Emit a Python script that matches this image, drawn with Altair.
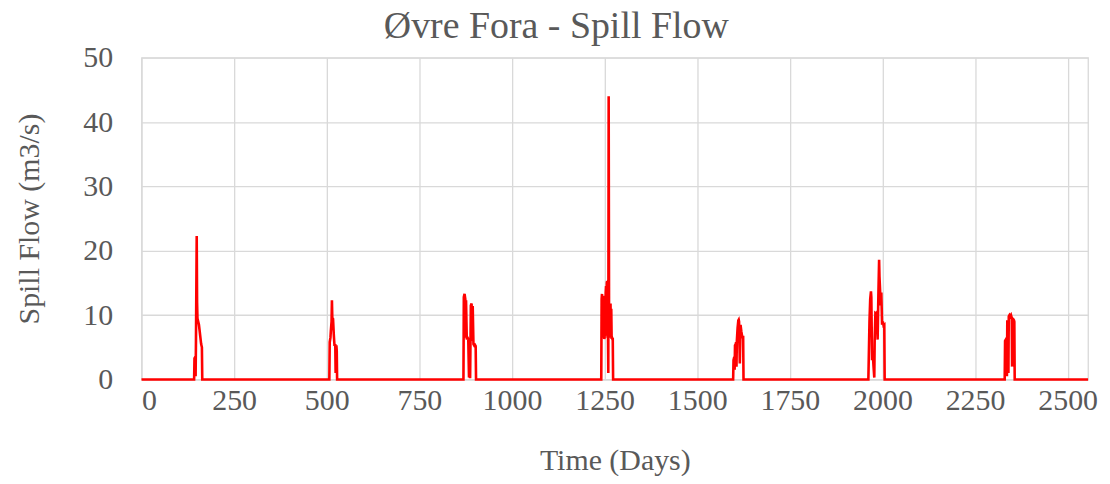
import altair as alt
import pandas as pd

# Spill flow series (day, m3/s)
s0_days = [0]
s0_vals = [0]
s1_days = [142, 143, 145, 146, 147, 149, 150, 151, 153, 155, 157, 159, 161, 163, 164]
s1_vals = [0, 3.3, 3.5, 0.5, 6, 22.3, 12, 9.5, 9, 8.5, 7.5, 6.5, 5.5, 5, 0]
s2_days = [507, 508, 510, 511, 513, 514, 515, 517, 519, 521, 523, 524, 526, 527, 528]
s2_vals = [0, 5.8, 6.5, 7.5, 9, 12.3, 9.6, 9.4, 7, 5.2, 5.5, 1, 5.3, 4.5, 0]
s3_days = [869, 870, 872, 874, 875, 876, 878, 880, 882, 884, 885, 887, 889, 891, 892, 894, 896, 898, 900, 902, 903]
s3_vals = [0, 12.8, 13.3, 12.5, 6.5, 12.3, 6.2, 6.5, 6.3, 0.3, 6, 0.2, 11.5, 11.8, 6, 11.4, 5.5, 5.3, 5.4, 5.2, 0]
s4_days = [1241, 1242, 1243, 1244, 1245, 1246, 1247, 1248, 1249, 1250, 1251, 1252, 1253, 1254, 1255, 1256, 1257,
           1258, 1259, 1260, 1261, 1262, 1263, 1264, 1265, 1266, 1267, 1268, 1269, 1270, 1271, 1272, 1273]
s4_vals = [0, 12.5, 13.3, 7, 12, 6.5, 11, 13, 6.3, 6.5, 12.5, 6.8, 13.5, 14.5, 7, 15, 15.3,
           6.5, 8, 1, 44, 11, 7, 6.5, 11.5, 11.8, 6.8, 11, 6.5, 6.5, 6.3, 6.5, 0]
s5_days = [1597, 1598, 1600, 1601, 1602, 1604, 1605, 1606, 1607, 1609, 1611, 1612, 1613, 1615, 1617, 1619, 1621, 1623, 1624, 1625]
s5_vals = [0, 3, 3.5, 1.5, 5.3, 5.5, 5.8, 2, 6, 8, 9.2, 9.3, 9, 2.5, 8.5, 7.5, 6.8, 6.5, 6.8, 0]
s6_days = [1962, 1963, 1965, 1967, 1969, 1970, 1972, 1974, 1976, 1978, 1979, 1981, 1983, 1985, 1987, 1989, 1991,
           1992, 1994, 1995, 1997, 1999, 2001, 2003, 2005, 2006]
s6_vals = [0, 3, 9, 12.5, 13.7, 12.8, 3, 4, 2, 0.3, 6, 10.3, 10.2, 10.4, 6.2, 13, 18.6,
           16, 13.4, 11.5, 13.5, 8.5, 9, 8.4, 8.5, 0]
s7_days = [2330, 2331, 2333, 2335, 2336, 2337, 2339, 2340, 2341, 2343, 2345, 2347, 2349, 2350, 2351, 2353, 2355, 2356, 2357]
s7_vals = [0, 6, 6.2, 6, 0.5, 9, 9, 1, 9.8, 10, 9.8, 10, 9.6, 2, 9.5, 9.4, 9.2, 9, 0]
s8_days = [2555]
s8_vals = [0]

x_ticks = [0, 250, 500, 750, 1000, 1250, 1500, 1750, 2000, 2250, 2500]
y_ticks = [0, 10, 20, 30, 40, 50]

days = s0_days + s1_days + s2_days + s3_days + s4_days + s5_days + s6_days + s7_days + s8_days
vals = s0_vals + s1_vals + s2_vals + s3_vals + s4_vals + s5_vals + s6_vals + s7_vals + s8_vals
df = pd.DataFrame({"day": days, "flow": vals})

FONT = "Liberation Serif"
TXT = "#595959"

chart = alt.Chart(df).mark_line(color="#ff0000", strokeWidth=2.6).encode(
    x=alt.X("day:Q",
            scale=alt.Scale(domain=[0, 2555], nice=False, zero=False),
            axis=alt.Axis(values=x_ticks, format="d", title="Time (Days)", labelPadding=6, titlePadding=30)),
    y=alt.Y("flow:Q",
            scale=alt.Scale(domain=[0, 50], nice=False),
            axis=alt.Axis(values=y_ticks, format="d", title="Spill Flow (m3/s)", labelPadding=29, titlePadding=38)),
).properties(
    width=950, height=323,
    title=alt.TitleParams("Øvre Fora - Spill Flow", fontSize=38, font=FONT, color=TXT,
                          fontWeight="normal", anchor="middle", frame="bounds", offset=-3),
    autosize=alt.AutoSizeParams(type="none"),
    padding={"left": 134, "top": 49, "right": 14, "bottom": 96},
).configure_view(
    stroke="#d9d9d9", strokeWidth=1.3
).configure_axis(
    domain=False, ticks=False, grid=True, gridColor="#d9d9d9", gridWidth=1.3,
    labelFont=FONT, labelFontSize=30, labelColor=TXT,
    titleFont=FONT, titleFontSize=30, titleColor=TXT, titleFontWeight="normal",
)

chart.save("out.html", embed_options={"renderer": "svg", "actions": False})
